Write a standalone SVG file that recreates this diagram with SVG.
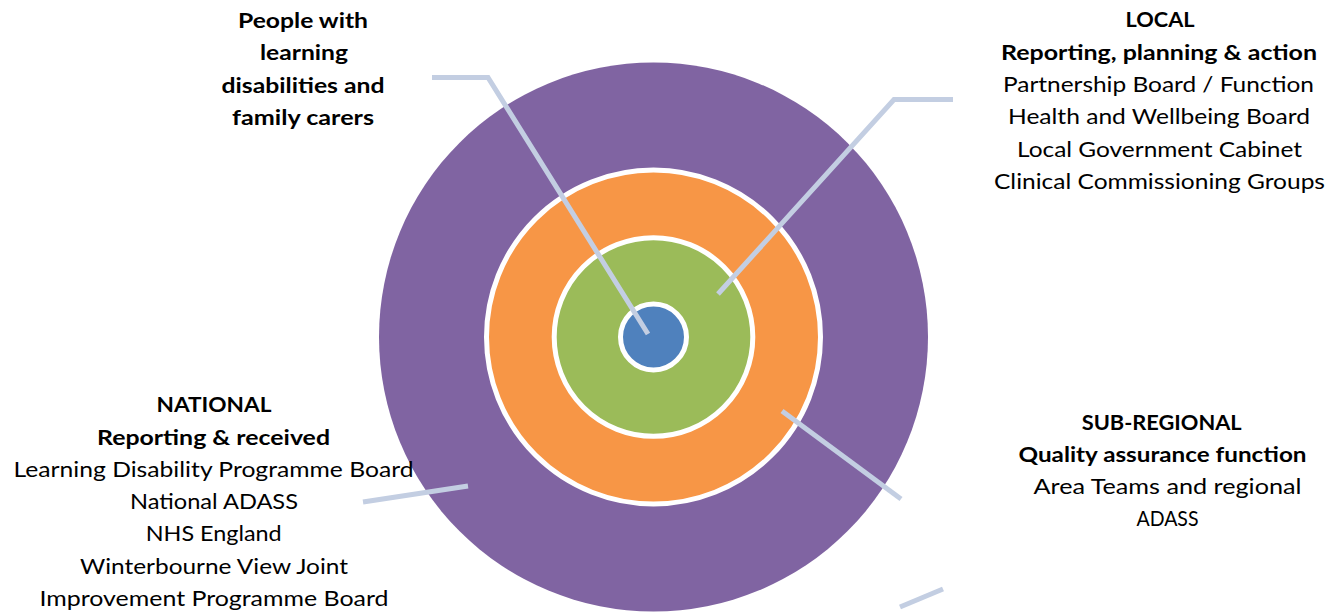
<svg xmlns="http://www.w3.org/2000/svg" width="1329" height="613" viewBox="0 0 1329 613">
<style>
text{font-family:Lato,"Liberation Sans",sans-serif;font-size:21px;fill:#000;text-anchor:middle}
.b{font-weight:bold}
.ring{stroke:#fff;stroke-width:5}
.con{fill:none;stroke:#C3CEE2;stroke-width:5;stroke-linejoin:miter}
</style>
<rect width="1329" height="613" fill="#fff"/>
<g id="national-ring"><circle cx="653.5" cy="337" r="274.5" fill="#8064A2"/></g>
<g id="subregional-ring"><circle class="ring" cx="653.5" cy="337" r="167" fill="#F79646"/></g>
<g id="local-ring"><circle class="ring" cx="653.5" cy="337" r="99.3" fill="#9BBB59"/></g>
<g id="people-core"><circle class="ring" cx="653.5" cy="337" r="33" fill="#4F81BD"/></g>
<g id="connectors">
<polyline class="con" points="432,77.5 488,77.5 648,334"/>
<polyline class="con" points="953,99.5 894,99.5 718,294"/>
<line class="con" x1="782" y1="411" x2="901" y2="499"/>
<line class="con" x1="363" y1="502" x2="468" y2="486"/>
<line class="con" x1="900" y1="607" x2="943" y2="589"/>
</g>
<g id="label-people">
<text class="b" x="303" y="27.5" textLength="130" lengthAdjust="spacingAndGlyphs">People with</text>
<text class="b" x="304" y="60" textLength="88" lengthAdjust="spacingAndGlyphs">learning</text>
<text class="b" x="303" y="92.5" textLength="163" lengthAdjust="spacingAndGlyphs">disabilities and</text>
<text class="b" x="303" y="124.5" textLength="142" lengthAdjust="spacingAndGlyphs">family carers</text>
</g>
<g id="label-local">
<text class="b" x="1160" y="26.5" textLength="69" lengthAdjust="spacingAndGlyphs">LOCAL</text>
<text class="b" x="1159" y="59.5" textLength="316" lengthAdjust="spacingAndGlyphs">Reporting, planning &amp; action</text>
<text x="1158.5" y="91.5" textLength="311" lengthAdjust="spacingAndGlyphs">Partnership Board / Function</text>
<text x="1159" y="124" textLength="302" lengthAdjust="spacingAndGlyphs">Health and Wellbeing Board</text>
<text x="1159.5" y="156.5" textLength="285" lengthAdjust="spacingAndGlyphs">Local Government Cabinet</text>
<text x="1159.5" y="188.5" textLength="331" lengthAdjust="spacingAndGlyphs">Clinical Commissioning Groups</text>
</g>
<g id="label-national">
<text class="b" x="214" y="412" textLength="115" lengthAdjust="spacingAndGlyphs">NATIONAL</text>
<text class="b" x="213.5" y="444.5" textLength="233" lengthAdjust="spacingAndGlyphs">Reporting &amp; received</text>
<text x="213.5" y="476.5" textLength="400" lengthAdjust="spacingAndGlyphs">Learning Disability Programme Board</text>
<text x="214" y="509" textLength="168" lengthAdjust="spacingAndGlyphs">National ADASS</text>
<text x="213.7" y="541" textLength="136" lengthAdjust="spacingAndGlyphs">NHS England</text>
<text x="214" y="573.5" textLength="268" lengthAdjust="spacingAndGlyphs">Winterbourne View Joint</text>
<text x="214" y="605.5" textLength="349" lengthAdjust="spacingAndGlyphs">Improvement Programme Board</text>
</g>
<g id="label-subregional">
<text class="b" x="1161.7" y="429.5" textLength="160" lengthAdjust="spacingAndGlyphs">SUB-REGIONAL</text>
<text class="b" x="1162.5" y="461.5" textLength="288" lengthAdjust="spacingAndGlyphs">Quality assurance function</text>
<text x="1167.5" y="494" textLength="268" lengthAdjust="spacingAndGlyphs">Area Teams and regional</text>
<text x="1167.5" y="526" textLength="62" lengthAdjust="spacingAndGlyphs">ADASS</text>
</g>
</svg>
